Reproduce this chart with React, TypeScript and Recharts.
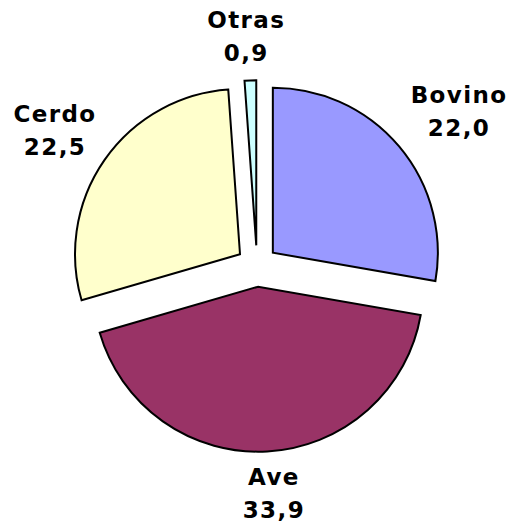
import { PieChart, Pie, Cell } from "recharts"

const CATEGORIES = ["Bovino", "Ave", "Cerdo", "Otras"]
const VALUES = [22.0, 33.9, 22.5, 0.9]
const COLORS = ["#9999ff", "#993366", "#ffffcc", "#ccffff"]

// label placement (distance from pie centre, small angle nudge in degrees)
const LABEL_RADIUS = [254, 228, 244, 230]
const LABEL_NUDGE = [-2.5, 0.9, 1, 0.8]

const W = 512
const H = 530
const CX = 257
const CY = 266
const R = 165
const EXPLODE = 20.7
const FONT = "'DejaVu Sans', Verdana, sans-serif"

const data = CATEGORIES.map((name, i) => ({ name, value: VALUES[i] }))
const total = VALUES.reduce((a, b) => a + b, 0)

// mid angle of each slice, clockwise from 12 o'clock (same as the Pie below)
const midAngles = VALUES.map((v, i) => {
  const before = VALUES.slice(0, i).reduce((a, b) => a + b, 0)
  return 90 - ((before + v / 2) / total) * 360
})

const fmt = (v: number) => v.toFixed(1).replace(".", ",")

function makeLabel(k: number) {
  return (props: any) => {
    if (props.index !== k) return <g />
    const a = ((props.midAngle + LABEL_NUDGE[k]) * Math.PI) / 180
    const x = CX + LABEL_RADIUS[k] * Math.cos(a)
    const y = CY - LABEL_RADIUS[k] * Math.sin(a)
    return (
      <text
        x={x}
        y={y}
        textAnchor="middle"
        fontFamily={FONT}
        fontWeight="bold"
        fontSize={23}
        letterSpacing={1.4}
        fill="#000"
      >
        <tspan x={x + 0.7} y={y - 8.5}>{props.name}</tspan>
        <tspan x={x + 0.7} y={y + 24.5}>{fmt(props.value)}</tspan>
      </text>
    )
  }
}

export default function App() {
  return (
    <div style={{ position: "absolute", left: 0, top: 0, width: W, height: H, background: "#fff" }}>
      <PieChart width={W} height={H} margin={{ top: 0, right: 0, bottom: 0, left: 0 }}>
        {data.map((_, k) => {
          const a = (midAngles[k] * Math.PI) / 180
          return (
            <Pie
              key={k}
              data={data}
              dataKey="value"
              nameKey="name"
              cx={CX + EXPLODE * Math.cos(a)}
              cy={CY - EXPLODE * Math.sin(a)}
              outerRadius={R}
              startAngle={90}
              endAngle={-270}
              isAnimationActive={false}
              labelLine={false}
              label={makeLabel(k)}
            >
              {data.map((d, i) => (
                <Cell
                  key={d.name}
                  fill={i === k ? COLORS[i] : "none"}
                  stroke={i === k ? "#000" : "none"}
                  strokeWidth={2}
                />
              ))}
            </Pie>
          )
        })}
      </PieChart>
    </div>
  )
}
